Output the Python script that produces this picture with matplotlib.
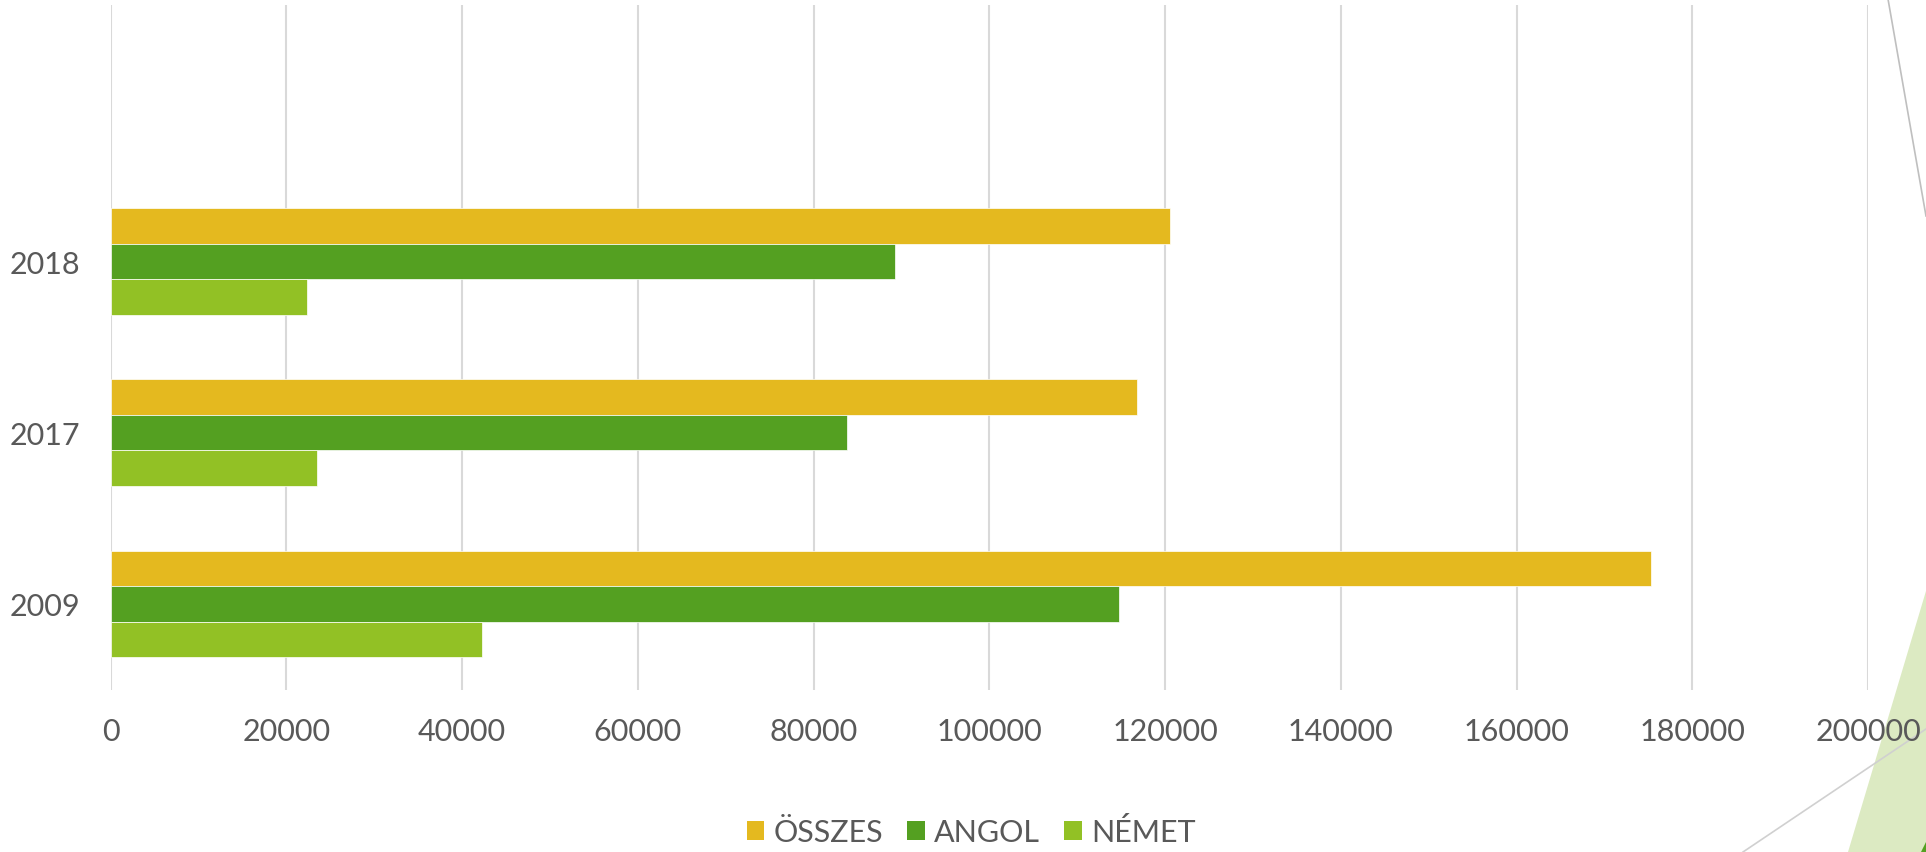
import matplotlib
matplotlib.use("Agg")
import matplotlib.pyplot as plt
from matplotlib.patches import Patch, Polygon
from matplotlib.lines import Line2D
import numpy as np

years = ["2009", "2017", "2018"]
osszes = [175300, 116800, 120600]
angol = [114800, 83800, 89300]
nemet = [42300, 23500, 22400]
series_names = ["ÖSSZES", "ANGOL", "NÉMET"]
colors = ["#E4B91F", "#54A021", "#92C125"]
xticks = [0, 20000, 40000, 60000, 80000, 100000, 120000, 140000, 160000, 180000, 200000]

W, H = 1926, 853
plt.rcParams['font.family'] = ['Lato', 'DejaVu Sans']
text_color = "#595959"
fs = 22

fig = plt.figure(figsize=(W / 100, H / 100), dpi=100)
fig.patch.set_facecolor("white")

left, right, top, bottom = 110.5, 1868, 5.7, 690.5
ax = fig.add_axes([left / W, 1 - bottom / H, (right - left) / W, (bottom - top) / H])
ax.patch.set_visible(False)

y = np.arange(len(years))
h = 0.2073
for vals, off, c, name in zip([osszes, angol, nemet], [h, 0, -h], colors, series_names):
    ax.barh(y + off, vals, height=h, color=c, edgecolor="white", linewidth=0.5, label=name, zorder=3)

ax.set_xlim(0, 200000)
ax.set_ylim(-0.5, 3.5)
ax.set_xticks(xticks)
ax.set_xticklabels([str(v) for v in xticks])
ax.set_yticks(y)
ax.set_yticklabels(years)
ax.tick_params(axis="both", length=0, labelsize=fs, labelcolor=text_color)
ax.tick_params(axis="x", pad=20)
ax.tick_params(axis="y", pad=22)
ax.xaxis.grid(True, color="#D9D9D9", linewidth=1.5, zorder=0)
ax.yaxis.grid(False)
for s in ax.spines.values():
    s.set_visible(False)

handles = [Patch(facecolor=c, edgecolor="none") for c in colors]
fig.legend(handles, series_names, loc="center", bbox_to_anchor=(971 / W, 1 - 833 / H),
           ncol=3, frameon=False, fontsize=fs, labelcolor=text_color,
           handlelength=0.57, handleheight=0.57, handletextpad=0.3, columnspacing=0.8)

def P(xp, yp):
    return (xp / W, 1 - yp / H)

fig.add_artist(Polygon([P(1926, 592), P(1848, 853), P(1926, 853)], closed=True,
                       facecolor="#DCEAC2", edgecolor="none", transform=fig.transFigure, zorder=-1))
fig.add_artist(Polygon([P(1926, 843), P(1921, 853), P(1926, 853)], closed=True,
                       facecolor="#54A021", edgecolor="none", transform=fig.transFigure, zorder=-1))
x0, y0 = P(1888, 0); x1, y1 = P(1926, 217)
fig.add_artist(Line2D([x0, x1], [y0, y1], color="#BFBFBF", linewidth=1.2, transform=fig.transFigure, zorder=-1))
x0, y0 = P(1743, 853); x1, y1 = P(1926, 730)
fig.add_artist(Line2D([x0, x1], [y0, y1], color="#D0D0D0", linewidth=1.2, transform=fig.transFigure, zorder=-1))

fig.savefig("out.png", dpi=100, facecolor="white")
